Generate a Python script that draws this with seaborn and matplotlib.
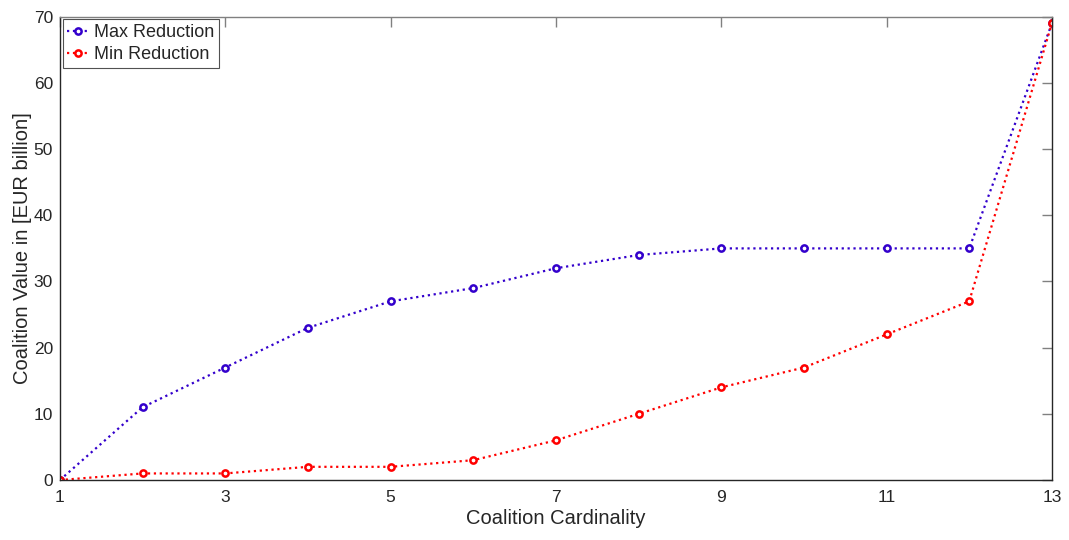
import numpy as np
import pandas as pd
import seaborn as sns
import matplotlib.pyplot as plt
from matplotlib.lines import Line2D

cardinality = list(range(1, 14))
max_reduction = [0, 11, 17, 23, 27, 29, 32, 34, 35, 35, 35, 35, 69]
min_reduction = [0, 1, 1, 2, 2, 3, 6, 10, 14, 17, 22, 27, 69]
x_ticks = [1, 3, 5, 7, 9, 11, 13]
y_ticks = [0, 10, 20, 30, 40, 50, 60, 70]
series_names = ['Max Reduction', 'Min Reduction']

df = pd.DataFrame({
    'Coalition Cardinality': cardinality * 2,
    'value': max_reduction + min_reduction,
    'series': [series_names[0]] * 13 + [series_names[1]] * 13,
})

sns.set_style('white')
plt.rcParams['font.family'] = ['Liberation Sans', 'DejaVu Sans']

fig = plt.figure(figsize=(10.69, 5.40), dpi=100)
ax = fig.add_axes([0.056, 0.111, 0.928, 0.858])

palette = {'Max Reduction': '#3300cc', 'Min Reduction': '#ff0000'}
sns.lineplot(data=df, x='Coalition Cardinality', y='value', hue='series',
             palette=palette, linestyle=':', linewidth=1.6, marker='o',
             markersize=4.5, markerfacecolor='white', markeredgewidth=1.8,
             legend=False, ax=ax)
for line, s in zip(ax.lines, series_names):
    line.set_markeredgecolor(palette[s])

ax.set_xlim(1, 13)
ax.set_ylim(0, 70)
ax.set_xticks(x_ticks)
ax.set_yticks(y_ticks)
ax.set_xlabel('Coalition Cardinality', fontsize=14.5, color='#262626', labelpad=3)
ax.set_ylabel('Coalition Value in [EUR billion]', fontsize=14.5, color='#262626', labelpad=1)
ax.tick_params(axis='both', labelsize=12.5, labelcolor='#262626', color='#808080',
               direction='in', length=7, width=1.0, top=True, right=True)
ax.tick_params(axis='x', pad=7)
ax.tick_params(axis='y', pad=5)
for name, sp in ax.spines.items():
    sp.set_color('#262626' if name in ('left', 'bottom', 'right') else '#808080')
    sp.set_linewidth(1.0)

handles = [Line2D([], [], color=palette[s], linestyle=':', linewidth=1.6,
                  marker='o', markersize=4.5, markerfacecolor='white',
                  markeredgewidth=1.8, markeredgecolor=palette[s])
           for s in series_names]
leg = ax.legend(handles, series_names, loc='upper left', fontsize=13,
                frameon=True, fancybox=False, borderpad=0.25, handlelength=1.2,
                handletextpad=0.3, labelspacing=0.3, borderaxespad=0.15)
leg.get_frame().set_edgecolor('#262626')
leg.get_frame().set_linewidth(0.8)

fig.savefig('out.png', dpi=100)
